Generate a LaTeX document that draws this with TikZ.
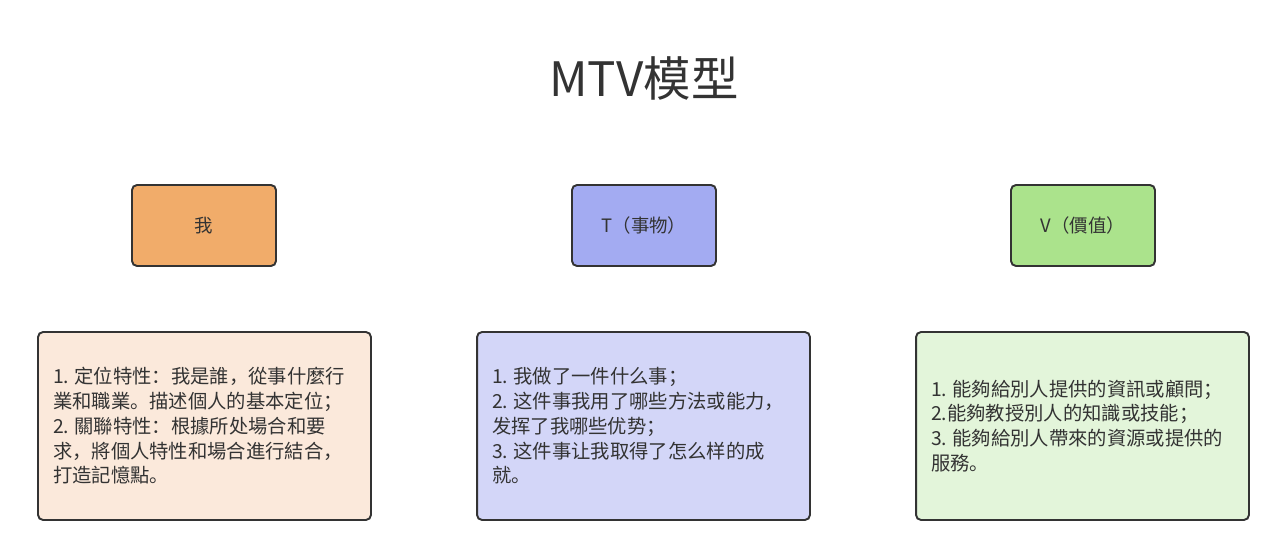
\documentclass[tikz,border=0pt]{standalone}
\usepackage{fontspec}
\setmainfont{Noto Sans CJK SC}
\usetikzlibrary{positioning}

\definecolor{ink}{HTML}{333333}
\definecolor{meFill}{HTML}{F1AC6A}
\definecolor{meLight}{HTML}{FBE9DB}
\definecolor{thingFill}{HTML}{A3ABF2}
\definecolor{thingLight}{HTML}{D3D6F8}
\definecolor{valueFill}{HTML}{ABE38C}
\definecolor{valueLight}{HTML}{E3F5DA}

\newcommand{\gap}{\hspace{0.28em}}

\begin{document}
\begin{tikzpicture}[x=0.02cm, y=-0.02cm,
    headbox/.style={rectangle, rounded corners=0.1cm, draw=ink, line width=1.1pt,
        minimum width=2.88cm, minimum height=1.62cm, text=ink, font=\fontsize{10.5}{12}\selectfont},
    notebox/.style={rectangle, rounded corners=0.1cm, draw=ink, line width=1.1pt,
        minimum width=6.66cm, minimum height=3.76cm, inner sep=0.3cm,
        text width=6.06cm, align=left, text=ink, font=\fontsize{11}{14.1}\selectfont}]
    \useasboundingbox (0,0) rectangle (1286,557);

    % Title
    \node[text=ink, font=\fontsize{27}{30}\selectfont] (title) at (644,78) {MTV模型};

    % Header boxes (M, T, V)
    \node[headbox, fill=meFill] (me) at (204,225.5) {我};
    \node[headbox, fill=thingFill] (thing) at (644,225.5) {T（事物）};
    \node[headbox, fill=valueFill] (value) at (1083,225.5) {V（價值）};

    % Description boxes
    \node[notebox, fill=meLight] (meNote) at (204.5,426) {1.\gap 定位特性：我是誰，從事什麼行\\業和職業。描述個人的基本定位；\\2.\gap 關聯特性：根據所处場合和要\\求，將個人特性和場合進行結合，\\打造記憶點。};
    \node[notebox, fill=thingLight] (thingNote) at (643.5,426) {1.\gap 我做了一件什么事；\\2.\gap 这件事我用了哪些方法或能力，\\发挥了我哪些优势；\\3.\gap 这件事让我取得了怎么样的成\\就。};
    \node[notebox, fill=valueLight] (valueNote) at (1082.5,426) {1.\gap 能夠給別人提供的資訊或顧問；\\2.能夠教授別人的知識或技能；\\3.\gap 能夠給別人帶來的資源或提供的\\服務。};

\end{tikzpicture}
\end{document}
